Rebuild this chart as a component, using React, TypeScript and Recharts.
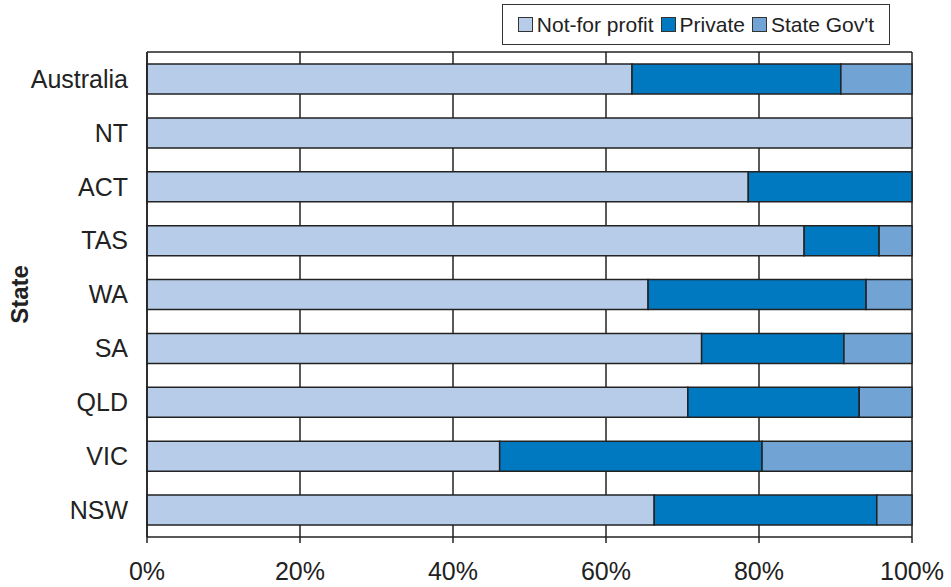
import React from "react";
import { BarChart, Bar, XAxis, YAxis, CartesianGrid } from "recharts";

const states = ["Australia", "NT", "ACT", "TAS", "WA", "SA", "QLD", "VIC", "NSW"];
const notForProfit = [63.4, 100, 78.6, 85.9, 65.5, 72.5, 70.7, 46.1, 66.3];
const privateShare = [27.3, 0, 21.4, 9.8, 28.5, 18.6, 22.4, 34.3, 29.1];
const stateGovt = [9.3, 0, 0, 4.3, 6.0, 8.9, 6.9, 19.6, 4.6];
const xTicks = [0, 20, 40, 60, 80, 100];
const bandEdges = [0, 1, 2, 3, 4, 5, 6, 7, 8, 9];

const seriesNames = ["Not-for profit", "Private", "State Gov't"];
const seriesColors = ["#B7CCE8", "#0079C1", "#71A4D5"];

const data = states.map((s, i) => ({
  state: s,
  nfp: notForProfit[i],
  priv: privateShare[i],
  gov: stateGovt[i],
}));

const FONT = "'Liberation Sans', Arial, sans-serif";

const LegendBox = () => (
  <div
    style={{
      position: "absolute",
      left: 502,
      top: 4,
      border: "1.5px solid #333",
      width: 388,
      height: 41,
      boxSizing: "border-box",
      display: "flex",
      alignItems: "center",
      justifyContent: "center",
      fontFamily: FONT,
      fontSize: 21,
      color: "#222",
      background: "#fff",
      whiteSpace: "nowrap",
    }}
  >
    {seriesNames.map((n, i) => (
      <span key={n} style={{ display: "flex", alignItems: "center", marginRight: i < 2 ? 7 : 0 }}>
        <span
          style={{
            display: "inline-block",
            width: 13,
            height: 13,
            background: seriesColors[i],
            border: "1px solid #333",
            marginRight: 4,
          }}
        />
        {n}
      </span>
    ))}
  </div>
);

export default function App() {
  return (
    <div style={{ position: "absolute", left: 0, top: 0, width: 951, height: 587, background: "#fff" }}>
      <BarChart
        width={951}
        height={587}
        data={data}
        layout="vertical"
        margin={{ top: 52, right: 39, bottom: 10, left: 47 }}
      >
        <CartesianGrid horizontalPoints={[52]} stroke="#222" strokeWidth={1.5} yAxisId="cat" />
        <XAxis
          type="number"
          domain={[0, 100]}
          ticks={xTicks}
          tickFormatter={(v) => `${v}%`}
          axisLine={{ stroke: "#222", strokeWidth: 1.5 }}
          tickLine={{ stroke: "#222", strokeWidth: 1.5 }}
          tickSize={6}
          tickMargin={19}
          height={40}
          tick={{ fontFamily: FONT, fontSize: 25, fill: "#222" }}
          interval={0}
        />
        <YAxis
          yAxisId="edges"
          type="number"
          domain={[0, 9]}
          ticks={bandEdges}
          width={0}
          axisLine={false}
          tickLine={{ stroke: "#222", strokeWidth: 1.5 }}
          tickSize={6}
          tickFormatter={() => ""}
          interval={0}
        />
        <YAxis
          yAxisId="cat"
          type="category"
          dataKey="state"
          width={100}
          axisLine={{ stroke: "#222", strokeWidth: 1.5 }}
          tickLine={false}
          tickMargin={13}
          tick={{ fontFamily: FONT, fontSize: 25, fill: "#222" }}
          interval={0}
          label={{
            value: "State",
            angle: -90,
            position: "insideLeft",
            offset: -28,
            style: { fontFamily: FONT, fontSize: 24, fontWeight: "bold", fill: "#222", textAnchor: "middle" },
          }}
        />
        <Bar yAxisId="cat" dataKey="nfp" stackId="a" barSize={30} fill={seriesColors[0]} stroke="#222" strokeWidth={1.5} isAnimationActive={false} />
        <Bar yAxisId="cat" dataKey="priv" stackId="a" barSize={30} fill={seriesColors[1]} stroke="#222" strokeWidth={1.5} isAnimationActive={false} />
        <Bar yAxisId="cat" dataKey="gov" stackId="a" barSize={30} fill={seriesColors[2]} stroke="#222" strokeWidth={1.5} isAnimationActive={false} />
      </BarChart>
      <LegendBox />
    </div>
  );
}
